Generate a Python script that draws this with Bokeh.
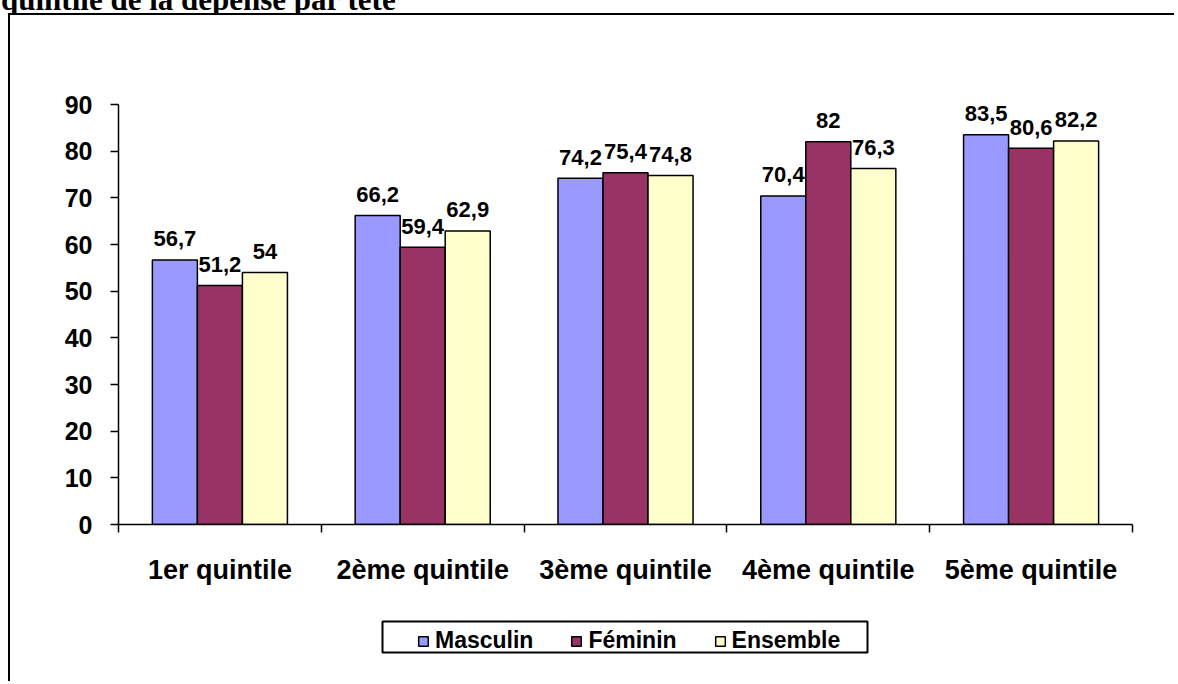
from bokeh.plotting import figure
from bokeh.models import (Range1d, FixedTicker, LinearAxis, Legend, LegendItem,
                          ColumnDataSource, Div, BoxAnnotation)
from bokeh.layouts import column
from bokeh.transform import dodge
from bokeh.core.properties import value
from bokeh.embed import file_html
from bokeh.resources import INLINE

# ---- data ----
categories = ["1er quintile", "2ème quintile", "3ème quintile", "4ème quintile", "5ème quintile"]
series_names = ["Masculin", "Féminin", "Ensemble"]
masculin = [56.7, 66.2, 74.2, 70.4, 83.5]
feminin = [51.2, 59.4, 75.4, 82.0, 80.6]
ensemble = [54.0, 62.9, 74.8, 76.3, 82.2]
y_ticks = [0, 10, 20, 30, 40, 50, 60, 70, 80, 90]
title_fragment = "quintile de la dépense par tête"

colors = ["#9999FF", "#993366", "#FFFFCC"]
FONT = "Liberation Sans"


def fmt(v):
    return ("%g" % v).replace(".", ",")


# main chart canvas origin is at page (10, 15) (host at (8, 13) + 2px border)
W, H1, H2 = 1166, 585, 83
LEFT, RIGHT, TOP, BOTTOM = 108, 1122, 89, 509

fig = figure(width=W, height=H1, output_backend="svg", toolbar_location=None,
             x_range=Range1d(0, len(categories)), y_range=Range1d(0, 90),
             x_axis_type=None, y_axis_type=None,
             min_border_left=LEFT, min_border_right=W - RIGHT,
             min_border_top=TOP, min_border_bottom=H1 - BOTTOM)
fig.margin = (0, 0, 0, 8)
fig.outline_line_color = None
fig.background_fill_color = "white"
fig.border_fill_color = "white"
fig.styles = {"border-left": "2px solid black", "border-top": "2px solid black"}

centers = [i + 0.5 for i in range(len(categories))]
src = ColumnDataSource(dict(
    x=centers,
    Masculin=masculin, Féminin=feminin, Ensemble=ensemble,
    lab_Masculin=[fmt(v) for v in masculin],
    lab_Féminin=[fmt(v) for v in feminin],
    lab_Ensemble=[fmt(v) for v in ensemble],
))

bw = 0.222
offsets = [-bw, 0.0, bw]
for name, col, off in zip(series_names, colors, offsets):
    fig.vbar(x=dodge("x", off, range=fig.x_range), top=name, width=bw, source=src,
             fill_color=col, line_color="black", line_width=1.5)
    fig.text(x=dodge("x", off, range=fig.x_range), y=name, text="lab_" + name, source=src,
             text_align="center", text_baseline="alphabetic", y_offset=-21,
             text_font=value(FONT), text_font_style="bold", text_font_size="22px",
             text_color="black")

# y axis
yax = LinearAxis(ticker=FixedTicker(ticks=y_ticks))
yax.major_tick_in = 0
yax.major_tick_out = 8
yax.minor_tick_line_color = None
yax.axis_line_color = "black"
yax.axis_line_width = 1.5
yax.major_tick_line_width = 1.5
yax.major_label_standoff = 18
yax.major_label_text_font = FONT
yax.major_label_text_font_style = "bold"
yax.major_label_text_font_size = "25px"
yax.major_label_text_color = "black"
fig.add_layout(yax, "left")

# x axis: labels at centres, ticks at boundaries
xax = LinearAxis(ticker=FixedTicker(ticks=centers,
                                    minor_ticks=list(range(len(categories) + 1))))
xax.major_label_overrides = {c: name for c, name in zip(centers, categories)}
xax.major_tick_in = 0
xax.major_tick_out = 0
xax.major_tick_line_color = None
xax.minor_tick_in = 0
xax.minor_tick_out = 8
xax.minor_tick_line_color = "black"
xax.minor_tick_line_width = 1.5
xax.axis_line_color = "black"
xax.axis_line_width = 1.5
xax.major_label_standoff = 22
xax.major_label_text_font = FONT
xax.major_label_text_font_style = "bold"
xax.major_label_text_font_size = "27px"
xax.major_label_text_color = "black"
fig.add_layout(xax, "below")

# legend strip (own small figure so that the legend is not clipped)
leg = figure(width=W, height=H2, output_backend="svg", toolbar_location=None,
             x_range=Range1d(LEFT, RIGHT), y_range=Range1d(0, H2),
             x_axis_type=None, y_axis_type=None,
             min_border_left=0, min_border_right=0, min_border_top=0, min_border_bottom=0)
leg.margin = (0, 0, 0, 8)
leg.outline_line_color = None
leg.background_fill_color = "white"
leg.border_fill_color = "white"
leg.styles = {"border-left": "2px solid black"}
leg.extra_x_ranges = {"cat": Range1d(1000, 1001)}
leg.extra_y_ranges = {"hidden": Range1d(1000, 1001)}
leg_renderers = []
for name, col, off in zip(series_names, colors, offsets):
    r = leg.vbar(x=dodge("x", off), top=name, width=bw, source=src,
                 x_range_name="cat", y_range_name="hidden",
                 fill_color=col, line_color="black", line_width=1.5)
    r.visible = False
    leg_renderers.append(r)

leg.add_layout(BoxAnnotation(left=372, right=857, top=60, bottom=29,
                             fill_alpha=0, line_color="black", line_width=2, line_alpha=1))

legend = Legend(items=[LegendItem(label=n, renderers=[r]) for n, r in zip(series_names, leg_renderers)],
                orientation="horizontal", location=(299, 27))
legend.border_line_color = None
legend.background_fill_alpha = 0
legend.label_text_font = FONT
legend.label_text_font_style = "bold"
legend.label_text_font_size = "23px"
legend.label_text_color = "black"
legend.glyph_width = 12
legend.glyph_height = 12
legend.label_standoff = 6
legend.spacing = 37
legend.padding = 1
legend.margin = 0
leg.add_layout(legend, "center")

title_div = Div(
    text=('<div style="position:relative; left:1px; top:-16px; white-space:nowrap; '
          'font-family:\'Liberation Serif\'; font-weight:bold; font-size:31px; '
          'line-height:31px; color:black;">' + title_fragment + '</div>'),
    width=W + 10, height=13, margin=0, styles={"overflow": "hidden"})

p = column(title_div, fig, leg, spacing=0, margin=0)

open("out.html", "w").write(file_html(p, INLINE))
